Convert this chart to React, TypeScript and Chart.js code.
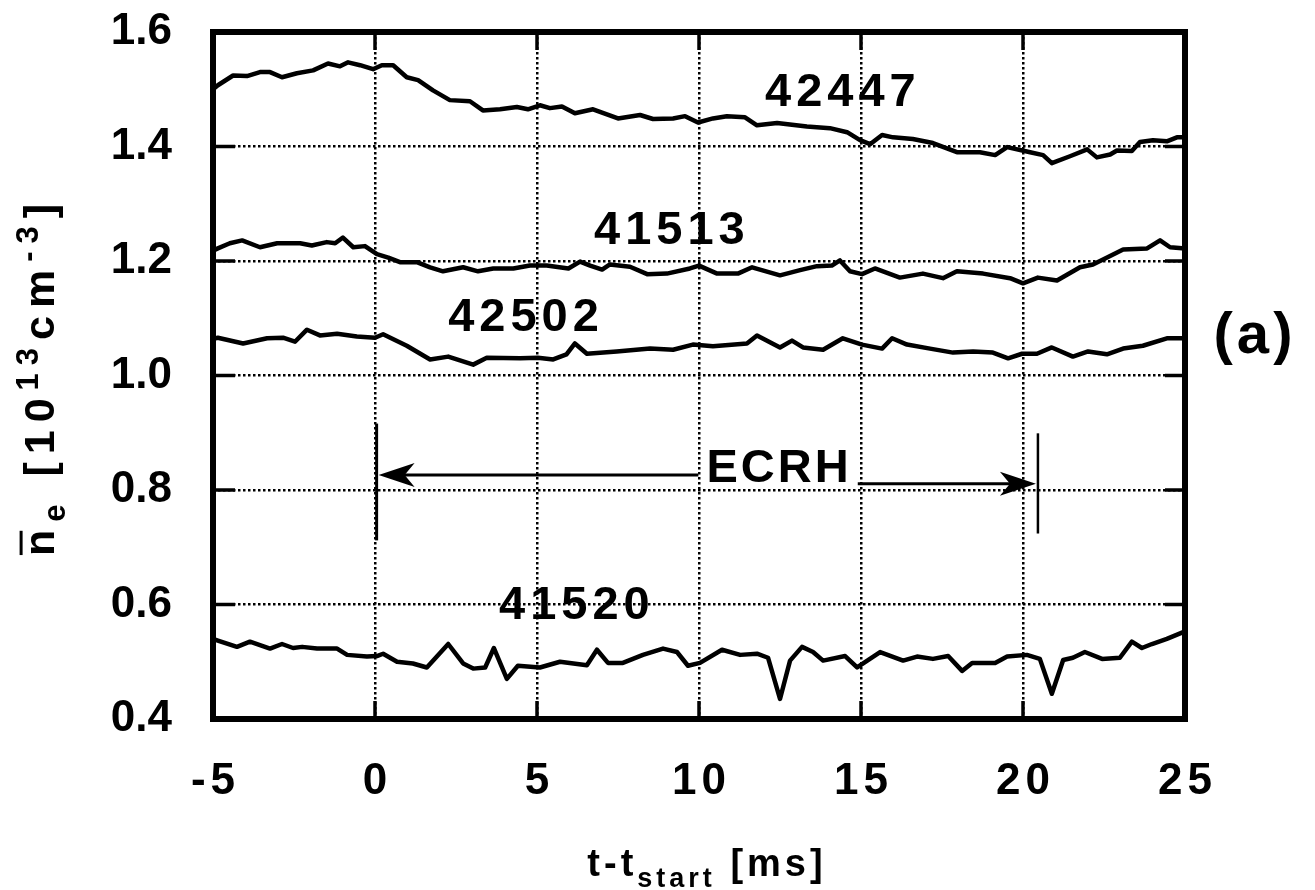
import React, { useEffect, useRef } from 'react';
import { Chart, registerables } from 'chart.js';

Chart.register(...registerables);

// ---- data (t - t_start in ms, line-averaged density in 10^13 cm^-3) ----
const T_42447 = [-5, -4.85, -4.38, -3.95, -3.55, -3.24, -2.87, -2.41, -1.91, -1.45, -1.08, -0.83, -0.46, -0.06, 0.21, 0.56, 0.98, 1.33, 1.79, 2.31, 2.93, 3.33, 3.86, 4.38, 4.72, 5.09, 5.4, 5.77, 6.17, 6.73, 7.5, 8.18, 8.58, 9.2, 9.57, 9.97, 10.43, 10.86, 11.42, 11.79, 12.41, 13.33, 14.04, 14.57, 14.97, 15.28, 15.65, 15.99, 16.6, 17.22, 17.96, 18.67, 19.14, 19.51, 20.22, 20.62, 20.89, 21.45, 21.98, 22.28, 22.69, 22.9, 23.36, 23.61, 24.01, 24.44, 24.75, 25];
const N_42447 = [1.5, 1.507, 1.524, 1.523, 1.53, 1.53, 1.521, 1.528, 1.533, 1.545, 1.54, 1.547, 1.542, 1.535, 1.542, 1.542, 1.521, 1.516, 1.498, 1.481, 1.479, 1.463, 1.465, 1.469, 1.465, 1.472, 1.467, 1.47, 1.458, 1.465, 1.449, 1.455, 1.448, 1.449, 1.453, 1.442, 1.449, 1.453, 1.451, 1.437, 1.441, 1.435, 1.432, 1.425, 1.411, 1.404, 1.42, 1.416, 1.413, 1.406, 1.39, 1.39, 1.385, 1.399, 1.39, 1.385, 1.371, 1.383, 1.395, 1.381, 1.386, 1.393, 1.392, 1.408, 1.411, 1.409, 1.416, 1.416];

const T_41513 = [-5, -4.85, -4.48, -4.1, -3.55, -3.02, -2.31, -1.95, -1.49, -1.23, -0.99, -0.67, -0.31, 0.06, 0.41, 0.77, 1.29, 1.7, 2.1, 2.72, 3.18, 3.65, 4.27, 4.78, 5.3, 5.97, 6.33, 6.64, 7.01, 7.25, 7.87, 8.4, 9.01, 9.72, 10.0, 10.56, 11.2, 11.64, 12.5, 13.12, 13.64, 14.1, 14.35, 14.66, 15.03, 15.43, 16.2, 16.91, 17.53, 17.96, 18.77, 19.6, 20.0, 20.46, 21.05, 21.76, 22.16, 23.09, 23.83, 24.23, 24.54, 25];
const N_41513 = [1.218, 1.222, 1.231, 1.236, 1.224, 1.231, 1.231, 1.227, 1.233, 1.231, 1.241, 1.224, 1.226, 1.212, 1.206, 1.198, 1.198, 1.189, 1.182, 1.189, 1.182, 1.187, 1.187, 1.192, 1.192, 1.187, 1.199, 1.192, 1.185, 1.194, 1.19, 1.177, 1.178, 1.187, 1.192, 1.178, 1.178, 1.189, 1.175, 1.184, 1.191, 1.192, 1.201, 1.182, 1.177, 1.187, 1.171, 1.178, 1.17, 1.182, 1.178, 1.17, 1.161, 1.171, 1.166, 1.189, 1.194, 1.22, 1.222, 1.236, 1.224, 1.222];

const T_42502 = [-5, -4.85, -4.07, -3.33, -2.84, -2.47, -2.1, -1.7, -1.17, -0.56, 0, 0.25, 0.98, 1.7, 2.26, 3.03, 3.45, 4.48, 5.03, 5.5, 5.91, 6.17, 6.54, 7.46, 8.49, 9.2, 9.81, 10.43, 11.48, 11.79, 12.5, 12.87, 13.21, 13.83, 14.44, 15.03, 15.65, 15.96, 16.42, 17.13, 17.84, 18.46, 19.07, 19.54, 19.97, 20.43, 20.89, 21.54, 22.01, 22.59, 23.09, 23.7, 24.44, 25];
const N_42502 = [1.064, 1.066, 1.056, 1.065, 1.066, 1.059, 1.08, 1.07, 1.073, 1.068, 1.066, 1.072, 1.052, 1.028, 1.033, 1.019, 1.031, 1.03, 1.031, 1.028, 1.037, 1.056, 1.038, 1.042, 1.047, 1.045, 1.054, 1.051, 1.056, 1.07, 1.049, 1.061, 1.049, 1.045, 1.065, 1.054, 1.047, 1.065, 1.054, 1.047, 1.04, 1.042, 1.04, 1.03, 1.038, 1.038, 1.049, 1.033, 1.042, 1.037, 1.047, 1.052, 1.065, 1.065];

const T_41520 = [-5, -4.85, -4.26, -3.86, -3.24, -2.87, -2.53, -2.25, -1.79, -1.17, -0.86, -0.25, 0.06, 0.25, 0.68, 1.17, 1.6, 2.26, 2.72, 3.03, 3.4, 3.67, 4.07, 4.41, 5.09, 5.71, 6.54, 6.85, 7.19, 7.65, 8.27, 8.89, 9.32, 9.66, 10.03, 10.71, 11.27, 11.79, 12.13, 12.5, 12.81, 13.18, 13.52, 13.83, 14.51, 14.88, 15.59, 16.3, 16.73, 17.22, 17.69, 18.12, 18.43, 19.14, 19.51, 20.12, 20.52, 20.89, 21.24, 21.54, 21.91, 22.44, 22.99, 23.36, 23.67, 23.98, 24.44, 25];
const N_41520 = [0.54, 0.537, 0.526, 0.535, 0.523, 0.531, 0.524, 0.526, 0.523, 0.523, 0.512, 0.509, 0.51, 0.514, 0.5, 0.497, 0.49, 0.531, 0.497, 0.488, 0.49, 0.524, 0.47, 0.493, 0.49, 0.5, 0.494, 0.521, 0.498, 0.498, 0.512, 0.523, 0.517, 0.493, 0.498, 0.521, 0.512, 0.514, 0.507, 0.435, 0.502, 0.526, 0.517, 0.502, 0.51, 0.49, 0.517, 0.502, 0.509, 0.505, 0.51, 0.484, 0.498, 0.498, 0.509, 0.512, 0.505, 0.444, 0.503, 0.507, 0.517, 0.505, 0.507, 0.535, 0.524, 0.531, 0.54, 0.553];

const X_TICKS = [-5, 0, 5, 10, 15, 20, 25];
const Y_TICKS = [0.4, 0.6, 0.8, 1.0, 1.2, 1.4, 1.6];

const SERIES_NAMES = ['42447', '41513', '42502', '41520'];
// label anchor positions in data coordinates (t, n)
const LABEL_T = [14.38, 9.1, 4.6, 6.17];
const LABEL_N = [1.493, 1.253, 1.1, 0.598];

const ECRH_TEXT = 'ECRH';
const ECRH_START = 0.05;
const ECRH_END = 20.43;
const PANEL_TEXT = '(a)';

const FONT = '"Liberation Sans", Arial, Helvetica, sans-serif';

type Seg = { t: string; s?: number; dy?: number; over?: boolean };

function drawRich(ctx: CanvasRenderingContext2D, segs: Seg[], cx: number, by: number, size: number, ls: number) {
  ctx.letterSpacing = ls + 'px';
  let total = 0;
  const widths: number[] = [];
  segs.forEach((sg) => {
    ctx.font = `bold ${Math.round(size * (sg.s || 1))}px ${FONT}`;
    const w = ctx.measureText(sg.t).width;
    widths.push(w);
    total += w;
  });
  let x = cx - total / 2;
  ctx.textAlign = 'left';
  ctx.textBaseline = 'alphabetic';
  segs.forEach((sg, i) => {
    ctx.font = `bold ${Math.round(size * (sg.s || 1))}px ${FONT}`;
    ctx.fillText(sg.t, x, by + (sg.dy || 0) * size);
    if (sg.over) {
      ctx.fillRect(x + 1, by - size * 0.8, widths[i] - ls - 2, 3);
    }
    x += widths[i];
  });
  ctx.letterSpacing = '0px';
}

const annotPlugin = {
  id: 'annot',
  afterDraw(chart: any) {
    const { ctx, chartArea: a } = chart;
    const xs = chart.scales.x;
    const ys = chart.scales.y;
    const px = (v: number) => xs.getPixelForValue(v);
    const py = (v: number) => ys.getPixelForValue(v);
    const line = (x1: number, y1: number, x2: number, y2: number) => {
      ctx.beginPath();
      ctx.moveTo(x1, y1);
      ctx.lineTo(x2, y2);
      ctx.stroke();
    };
    ctx.save();
    ctx.strokeStyle = '#000';
    ctx.fillStyle = '#000';
    ctx.lineCap = 'butt';

    // frame
    ctx.lineWidth = 6;
    ctx.strokeRect(a.left, a.top, a.right - a.left, a.bottom - a.top);

    // inner tick marks
    ctx.lineWidth = 3.5;
    X_TICKS.slice(1, -1).forEach((v) => {
      const x = px(v);
      line(x, a.top, x, a.top + 18);
      line(x, a.bottom, x, a.bottom - 18);
    });
    Y_TICKS.slice(1, -1).forEach((v) => {
      const y = py(v);
      line(a.left, y, a.left + 22, y);
      line(a.right, y, a.right - 20, y);
    });

    // ECRH start / end markers
    ctx.lineWidth = 3;
    line(px(ECRH_START), py(0.916), px(ECRH_START), py(0.712));
    ctx.lineWidth = 2.5;
    line(px(ECRH_END) + 1, py(0.899), px(ECRH_END) + 1, py(0.724));

    // ECRH arrow
    const yl = py(0.826);
    const yr = py(0.811);
    const xl = px(ECRH_START);
    const xr = px(ECRH_END);
    ctx.lineWidth = 3;
    line(xl + 20, yl, px(9.98), yl);
    line(px(14.9), yr, xr - 20, yr);
    const head = (tx: number, ty: number, dir: number) => {
      ctx.beginPath();
      ctx.moveTo(tx, ty);
      ctx.lineTo(tx + dir * 36, ty - 12);
      ctx.lineTo(tx + dir * 26, ty);
      ctx.lineTo(tx + dir * 36, ty + 12);
      ctx.closePath();
      ctx.fill();
    };
    head(xl + 2, yl, 1);
    head(xr - 1, yr, -1);

    // series labels and texts
    ctx.textAlign = 'center';
    ctx.textBaseline = 'middle';
    ctx.font = `bold 47px ${FONT}`;
    ctx.letterSpacing = '5px';
    SERIES_NAMES.forEach((n, i) => {
      ctx.fillText(n, px(LABEL_T[i]) + 2, py(LABEL_N[i]));
    });
    ctx.letterSpacing = '3px';
    ctx.fillText(ECRH_TEXT, px(12.41) + 2, py(0.837));
    ctx.font = `bold 58px ${FONT}`;
    ctx.letterSpacing = '4px';
    ctx.fillText(PANEL_TEXT, 1255, 337);
    ctx.letterSpacing = '0px';

    // x axis title
    drawRich(
      ctx,
      [{ t: 't-t' }, { t: 'start', s: 0.72, dy: 0.28 }, { t: ' [ms]' }],
      (a.left + a.right) / 2 + 8,
      876,
      38,
      4
    );

    // y axis title (rotated)
    ctx.save();
    ctx.translate(54, 376);
    ctx.rotate(-Math.PI / 2);
    drawRich(
      ctx,
      [
        { t: 'n', over: true },
        { t: 'e', s: 0.72, dy: 0.25 },
        { t: ' [10' },
        { t: '13', s: 0.72, dy: -0.38 },
        { t: 'cm' },
        { t: '-3', s: 0.72, dy: -0.38 },
        { t: ']' },
      ],
      0,
      0,
      43,
      8
    );
    ctx.restore();

    ctx.restore();
  },
};

function makeSet(t: number[], n: number[]) {
  return {
    data: t.map((v, i) => ({ x: v, y: n[i] })),
    borderColor: '#000',
    borderWidth: 4.5,
    pointRadius: 0,
    tension: 0,
    borderJoinStyle: 'round' as const,
    borderCapStyle: 'round' as const,
    fill: false,
  };
}

export default function App() {
  const ref = useRef<HTMLCanvasElement | null>(null);
  useEffect(() => {
    if (!ref.current) return;
    const edgeX = (v: number) => v === X_TICKS[0] || v === X_TICKS[X_TICKS.length - 1];
    const edgeY = (v: number) => Math.abs(v - Y_TICKS[0]) < 1e-9 || Math.abs(v - Y_TICKS[Y_TICKS.length - 1]) < 1e-9;
    const X_LS = 5;
    const chart = new Chart(ref.current, {
      type: 'line',
      data: {
        datasets: [
          makeSet(T_42447, N_42447),
          makeSet(T_41513, N_41513),
          makeSet(T_42502, N_42502),
          makeSet(T_41520, N_41520),
        ],
      },
      options: {
        responsive: false,
        animation: false,
        clip: false as any,
        layout: { padding: { top: 32, right: 130, left: 0, bottom: 0 } },
        plugins: { legend: { display: false }, tooltip: { enabled: false }, title: { display: false } },
        scales: {
          x: {
            type: 'linear',
            min: -5,
            max: 25,
            afterBuildTicks: (s: any) => {
              s.ticks = X_TICKS.map((v) => ({ value: v }));
            },
            afterFit: (s: any) => {
              s.height = 171;
              s.paddingLeft = 0;
              s.paddingRight = 0;
              if (!s._lsWrapped) {
                s._lsWrapped = true;
                const orig = s.drawLabels.bind(s);
                s.drawLabels = (area: any) => {
                  const c = s.ctx;
                  c.save();
                  c.letterSpacing = X_LS + 'px';
                  c.translate(X_LS / 2, 0);
                  orig(area);
                  c.restore();
                };
              }
            },
            ticks: {
              color: '#000',
              font: { family: FONT, size: 44, weight: 'bold' },
              padding: 36,
              maxRotation: 0,
              autoSkip: false,
              callback: (v: any) => String(v),
            },
            grid: {
              color: (c: any) => (edgeX(c.tick?.value) ? 'rgba(0,0,0,0)' : '#000'),
              lineWidth: 2.5,
              drawTicks: false,
            },
            border: { display: false, dash: [2.5, 2.5] },
          },
          y: {
            type: 'linear',
            min: 0.4,
            max: 1.6,
            afterBuildTicks: (s: any) => {
              s.ticks = Y_TICKS.map((v) => ({ value: v }));
            },
            afterFit: (s: any) => {
              s.width = 213;
              s.paddingTop = 0;
              s.paddingBottom = 0;
            },
            ticks: {
              color: '#000',
              font: { family: FONT, size: 44, weight: 'bold' },
              padding: 41,
              autoSkip: false,
              callback: (v: any) => Number(v).toFixed(1),
            },
            grid: {
              color: (c: any) => (edgeY(c.tick?.value) ? 'rgba(0,0,0,0)' : '#000'),
              lineWidth: 2.5,
              drawTicks: false,
            },
            border: { display: false, dash: [2.5, 2.5] },
          },
        },
      },
      plugins: [annotPlugin],
    } as any);
    return () => chart.destroy();
  }, []);
  return (
    <div style={{ position: 'fixed', left: 0, top: 0, width: 1315, height: 890, background: '#fff' }}>
      <canvas ref={ref} width={1315} height={890} style={{ display: 'block', width: 1315, height: 890 }} />
    </div>
  );
}
